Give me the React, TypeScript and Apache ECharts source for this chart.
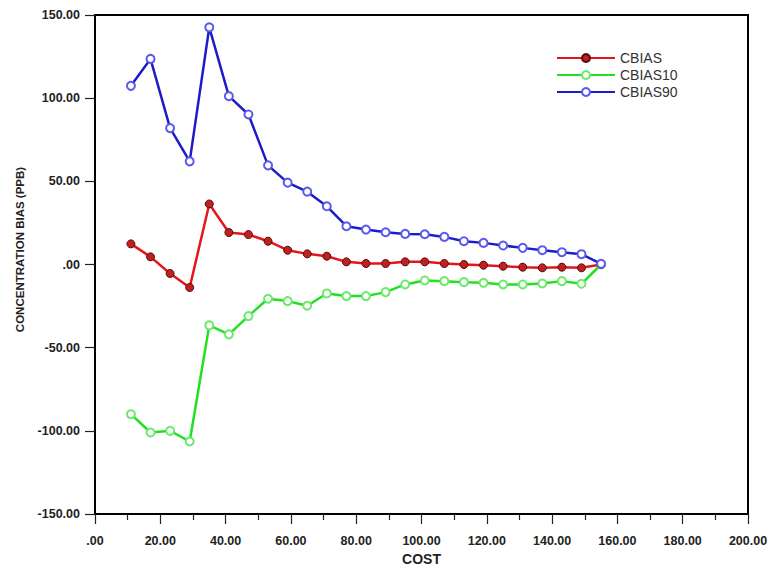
import React, { useEffect, useRef } from "react";
import * as echarts from "echarts";

const costs = [11, 17, 23, 29, 35, 41, 47, 53, 59, 65, 71, 77, 83, 89, 95, 101, 107, 113, 119, 125, 131, 137, 143, 149, 155];
const cbias = [12.4, 4.6, -5.4, -13.8, 36.4, 19.2, 18, 14, 8.6, 6.4, 5, 1.6, 0.6, 0.6, 1.6, 1.6, 0.6, 0, -0.4, -1, -1.6, -2, -1.6, -2, 0];
const cbias10 = [-90, -101, -100, -106.4, -36.6, -42, -31, -20.6, -22, -24.8, -17.4, -19, -19, -16.6, -12, -9.6, -10, -10.6, -11, -12, -12, -11.4, -10, -11.6, 0];
const cbias90 = [107.4, 123.6, 82, 62, 142.6, 101.2, 90.2, 59.6, 49.2, 43.8, 35, 23, 21, 19.4, 18.4, 18.2, 16.6, 14, 13, 11.4, 10, 8.6, 7.4, 6.2, 0.4];

const seriesNames = ["CBIAS", "CBIAS10", "CBIAS90"];

const fmt = (v: number) => {
  const s = v.toFixed(2);
  return s.replace(/^0\./, ".").replace(/^-0\./, "-.");
};

const pairs = (ys: number[]) => costs.map((c, i) => [c, ys[i]]);

export default function App() {
  const ref = useRef<HTMLDivElement>(null);
  useEffect(() => {
    if (!ref.current) return;
    const chart = echarts.init(ref.current, undefined, { renderer: "svg" });
    const labelStyle = {
      color: "#222",
      fontFamily: "Liberation Sans, Arial, sans-serif",
      fontWeight: "bold" as const,
      fontSize: 12.5,
    };
    chart.setOption({
      animation: false,
      backgroundColor: "#fff",
      grid: {
        left: 95,
        right: 29,
        top: 15,
        bottom: 53,
        show: true,
        borderColor: "#000",
        borderWidth: 2,
        containLabel: false,
        outerBoundsMode: "none",
      },
      legend: {
        orient: "vertical",
        left: 551,
        top: 46,
        itemWidth: 58,
        itemHeight: 10,
        itemGap: 3,
        textStyle: { fontSize: 14, color: "#333", fontFamily: "Liberation Sans, Arial, sans-serif" },
        data: seriesNames,
      },
      xAxis: {
        type: "value",
        min: 0,
        max: 200,
        interval: 20,
        name: "COST",
        nameLocation: "middle",
        nameGap: 37,
        nameTextStyle: { ...labelStyle, fontSize: 14 },
        axisLine: { show: true, onZero: false, lineStyle: { color: "#000", width: 2 } },
        axisTick: { show: true, inside: false, length: 10, lineStyle: { color: "#222", width: 1.2 } },
        minorTick: { show: true, splitNumber: 2, length: 6, lineStyle: { color: "#222", width: 1.2 } },
        splitLine: { show: false },
        axisLabel: { ...labelStyle, margin: 20, formatter: fmt },
      },
      yAxis: {
        type: "value",
        min: -150,
        max: 150,
        interval: 50,
        name: "CONCENTRATION BIAS (PPB)",
        nameLocation: "middle",
        nameGap: 69,
        nameRotate: 90,
        nameTextStyle: { ...labelStyle, fontSize: 11.5, padding: [0, 0, 0, 30] },
        axisLine: { show: true, onZero: false, lineStyle: { color: "#000", width: 2 } },
        axisTick: { show: true, inside: false, length: 10, lineStyle: { color: "#222", width: 1.2 } },
        splitLine: { show: false },
        axisLabel: { ...labelStyle, margin: 15, formatter: fmt },
      },
      series: [
        {
          name: "CBIAS",
          type: "line",
          data: pairs(cbias),
          symbol: "circle",
          symbolSize: 8,
          lineStyle: { color: "#e3161c", width: 2.5 },
          itemStyle: { color: "#c0201f", borderColor: "#5a0a0a", borderWidth: 1 },
          z: 3,
        },
        {
          name: "CBIAS10",
          type: "line",
          data: pairs(cbias10),
          symbol: "emptyCircle",
          symbolSize: 8,
          lineStyle: { color: "#20e020", width: 2.5 },
          itemStyle: { color: "#6ee86e", borderColor: "#6ee86e", borderWidth: 1.2 },
          z: 2,
        },
        {
          name: "CBIAS90",
          type: "line",
          data: pairs(cbias90),
          symbol: "emptyCircle",
          symbolSize: 8,
          lineStyle: { color: "#1c1cc8", width: 2.5 },
          itemStyle: { color: "#5a5aee", borderColor: "#5a5aee", borderWidth: 1.2 },
          z: 4,
        },
      ],
    });
    return () => chart.dispose();
  }, []);
  return <div ref={ref} style={{ width: 777, height: 567, position: "absolute", left: 0, top: 0 }} />;
}
